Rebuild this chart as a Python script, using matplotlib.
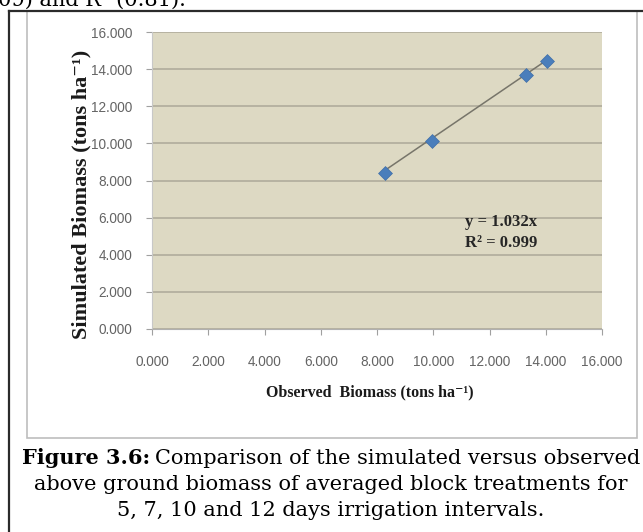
"""
Simulated vs observed above ground biomass (Figure 3.6 recreation).
"""
import matplotlib
matplotlib.use("Agg")
import matplotlib.pyplot as plt
from matplotlib.lines import Line2D
from matplotlib.patches import Rectangle
import numpy as np

# data
observed = [8.28, 9.96, 13.30, 14.04]
simulated = [8.40, 10.13, 13.68, 14.44]
slope = 1.032
r_squared = 0.999
ticks = [0, 2, 4, 6, 8, 10, 12, 14, 16]

W, H = 643, 532
TICK_FONT = ["Liberation Sans", "DejaVu Sans"]
CAPTION_FONT = ["DejaVu Serif"]
LABEL_FONT = ["Liberation Serif", "DejaVu Serif"]
CAP_SIZE = 15

fig = plt.figure(figsize=(W / 100, H / 100), dpi=100)
fig.patch.set_facecolor("white")


def px(x, y):
    """pixel coords (from top-left) -> figure fraction"""
    return x / W, 1 - y / H


# plot area in pixels
left, top, right, bottom = 152, 32, 602, 329
ax = fig.add_axes([left / W, 1 - bottom / H, (right - left) / W, (bottom - top) / H])
ax.set_facecolor("#DDD9C3")

ax.set_xlim(0, 16)
ax.set_ylim(0, 16)
ax.set_xticks(ticks)
ax.set_yticks(ticks)
ax.set_xticklabels([f"{t:.3f}" for t in ticks], family=TICK_FONT, fontsize=9.8, color="#646464")
ax.set_yticklabels([f"{t:.3f}" for t in ticks], family=TICK_FONT, fontsize=9.8, color="#646464")
ax.tick_params(axis="both", direction="out", length=4, width=0.8, color="#A0A0A0")
ax.tick_params(axis="x", pad=15)
ax.tick_params(axis="y", pad=10)

ax.grid(axis="y", color="#B3B09F", linewidth=1.3)
ax.set_axisbelow(True)
for side in ["top", "right"]:
    ax.spines[side].set_visible(False)
ax.spines["left"].set_color("#C8C8C8")
ax.spines["bottom"].set_color("#B0B0B0")
ax.spines["left"].set_linewidth(0.8)
ax.spines["bottom"].set_linewidth(0.8)

# trendline through origin over the data range
xs = np.array([min(observed), max(observed)])
ax.plot(xs, slope * xs, color="#77756A", linewidth=1.1, zorder=3)
ax.scatter(observed, simulated, marker="D", s=50, color="#4A7EBB",
           edgecolors="#3F6FA8", linewidths=0.5, zorder=4)

ax.text(12.4, 5.75, f"y = {slope}x", ha="center", va="center",
        family=LABEL_FONT, fontweight="bold", fontsize=12, color="#262626")
ax.text(12.4, 4.62, f"R² = {r_squared}", ha="center", va="center",
        family=LABEL_FONT, fontweight="bold", fontsize=12, color="#262626")

# axis titles
fig.text(*px(370, 392), "Observed  Biomass (tons ha⁻¹)", ha="center", va="center",
         family=LABEL_FONT, fontweight="bold", fontsize=11.5, color="#1A1A1A")
fig.text(*px(81, 194), "Simulated Biomass (tons ha⁻¹)", ha="center", va="center",
         rotation=90, family=LABEL_FONT, fontweight="bold", fontsize=16,
         color="#1A1A1A")

# chart frame (light) and page border (dark)
fig.add_artist(Rectangle(px(27, 438), (637 - 27) / W, (438 - 11) / H,
                         transform=fig.transFigure, fill=False,
                         edgecolor="#BDBDBD", linewidth=1.2))
fig.add_artist(Line2D([9 / W, 9 / W], [0, 1 - 11 / H], transform=fig.transFigure,
                      color="#2B2B2B", linewidth=1.6))
fig.add_artist(Line2D([9 / W, 1], [1 - 11 / H, 1 - 11 / H], transform=fig.transFigure,
                      color="#2B2B2B", linewidth=1.6))

# clipped text from the page above
fig.text(*px(-2, 6), "09) and R² (0.81).", ha="left", va="baseline",
         family=CAPTION_FONT, fontsize=CAP_SIZE, color="black")

# caption: first line is a bold label followed by regular text
renderer = fig.canvas.get_renderer()
bold = fig.text(0, 0, "Figure 3.6:", ha="left", va="center",
                family=CAPTION_FONT, fontweight="bold", fontsize=CAP_SIZE, color="black")
rest = fig.text(0, 0, "Comparison of the simulated versus observed", ha="left",
                va="center", family=CAPTION_FONT, fontsize=CAP_SIZE, color="black")
w_bold = bold.get_window_extent(renderer).width
w_rest = rest.get_window_extent(renderer).width
gap = 5
x0 = 331 - (w_bold + gap + w_rest) / 2
bold.set_position(px(x0, 458))
rest.set_position(px(x0 + w_bold + gap, 458))

fig.text(*px(331, 484), "above ground biomass of averaged block treatments for",
         ha="center", va="center", family=CAPTION_FONT, fontsize=CAP_SIZE, color="black")
fig.text(*px(331, 510), "5, 7, 10 and 12 days irrigation intervals.",
         ha="center", va="center", family=CAPTION_FONT, fontsize=CAP_SIZE, color="black")

fig.savefig("out.png", dpi=100)
